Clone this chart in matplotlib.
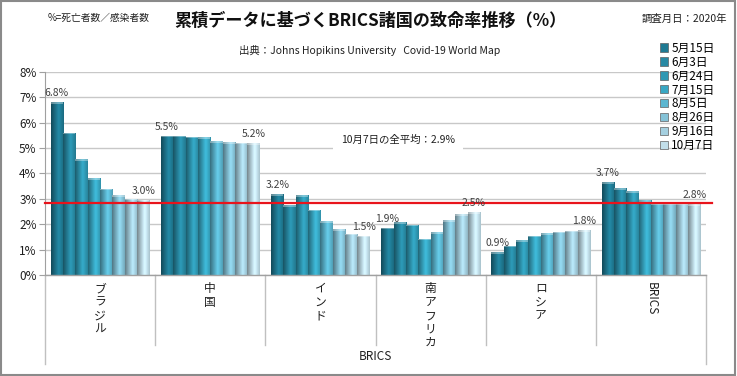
import numpy as np
import matplotlib
matplotlib.use("Agg")
import matplotlib.pyplot as plt
from matplotlib.patches import Patch, Rectangle
from matplotlib.lines import Line2D
import matplotlib.colors as mcolors
import matplotlib.transforms as mtransforms

plt.rcParams['font.family'] = ['Noto Sans CJK JP', 'DejaVu Sans']

# data
countries = ['ブラジル', '中国', 'インド', '南アフリカ', 'ロシア', 'BRICS']
dates = ['5月15日', '6月3日', '6月24日', '7月15日', '8月5日', '8月26日', '9月16日', '10月7日']
rates = {
    'ブラジル': [6.80, 5.60, 4.57, 3.82, 3.40, 3.15, 3.01, 2.96],
    '中国':     [5.48, 5.48, 5.45, 5.43, 5.27, 5.24, 5.22, 5.19],
    'インド':   [3.19, 2.75, 3.15, 2.58, 2.11, 1.80, 1.62, 1.54],
    '南アフリカ': [1.86, 2.08, 1.99, 1.42, 1.69, 2.15, 2.40, 2.48],
    'ロシア':   [0.90, 1.16, 1.38, 1.54, 1.65, 1.70, 1.74, 1.76],
    'BRICS':    [3.66, 3.41, 3.30, 2.94, 2.82, 2.81, 2.80, 2.79],
}
average = 2.85
avg_text = '10月7日の全平均：2.9%'
colors = ['#1f7a93', '#2889a3', '#2f98b3', '#38a7c3', '#5bb6d0', '#85c3d8', '#a5d0e0', '#c2dfea']

fig = plt.figure(figsize=(7.37, 3.76), dpi=100)
ax = fig.add_axes([0.061, 0.2686, 0.897, 0.54])

n = len(dates)
width = 0.112
x = np.arange(len(countries))
shade = np.concatenate([np.linspace(0.62, 1.12, 12), np.linspace(1.12, 0.88, 8)])

for i, d in enumerate(dates):
    vals = [rates[c][i] for c in countries]
    pos = x - width * (n - 1) / 2 + i * width
    bars = ax.bar(pos, vals, width, color=colors[i], label=d, zorder=2, linewidth=0)
    base = np.array(mcolors.to_rgb(colors[i]))
    img = np.clip(base[None, None, :] * shade[None, :, None], 0, 1)
    for b in bars:
        x0, w, h = b.get_x(), b.get_width(), b.get_height()
        im = ax.imshow(img, extent=(x0, x0 + w, 0, h), aspect='auto', zorder=3,
                       interpolation='bilinear')
        im.set_clip_path(b)
        ax.add_patch(Rectangle((x0, h - 0.06), w, 0.06, color='white', alpha=0.35,
                               zorder=4, linewidth=0))

# value labels on first and last bar of each group
for j, c in enumerate(countries):
    for i in (0, n - 1):
        xp = x[j] - width * (n - 1) / 2 + i * width
        ax.annotate(f'{rates[c][i]:.1f}%', (xp, rates[c][i]), xytext=(0, 3),
                    textcoords='offset points', ha='center', va='bottom',
                    fontsize=7.5, color='#404040', zorder=6)

ax.set_xlim(-0.5, len(countries) - 0.5)
ax.set_ylim(0, 8)
ax.set_yticks(np.arange(0, 9, 1))
ax.set_yticklabels([f'{v}%' for v in range(9)], fontsize=8.5, color='#202020')
ax.set_xticks([])
ax.grid(axis='y', color='#c8c8c8', linewidth=1, zorder=0)
ax.set_axisbelow(True)
for s in ['top', 'right', 'bottom']:
    ax.spines[s].set_visible(False)
ax.spines['left'].set_color('#a0a0a0')
ax.tick_params(axis='y', length=4, color='#a0a0a0', pad=2)

# average line
ax.plot([-0.5, len(countries) - 0.45], [average, average], color='#e8141c',
        linewidth=1.6, zorder=5, clip_on=False)
ax.text(0.534, 0.665, avg_text, transform=ax.transAxes, ha='center', va='center',
        fontsize=7.5, color='#202020', zorder=6,
        bbox=dict(facecolor='white', edgecolor='none', pad=6))

# category axis
trans = mtransforms.blended_transform_factory(ax.transData, ax.transAxes)
ax.plot([-0.5, len(countries) - 0.5], [0, 0], transform=trans, color='#a0a0a0',
        linewidth=1, clip_on=False, zorder=5)
for k in range(len(countries) + 1):
    bottom = -0.44 if k in (0, len(countries)) else -0.345
    ax.add_line(Line2D([k - 0.5, k - 0.5], [0, bottom], transform=trans,
                       color='#c0c0c0', linewidth=1, clip_on=False))
for j, c in enumerate(countries):
    if c == 'BRICS':
        ax.text(x[j], -0.035, c, transform=trans, rotation=-90, ha='center', va='top',
                fontsize=8.5, color='#202020')
    else:
        ax.text(x[j], -0.035, '\n'.join(c), transform=trans, ha='center', va='top',
                fontsize=8.5, color='#202020', linespacing=1.05)
ax.text(2.5, -0.40, 'BRICS', transform=trans, ha='center', va='center',
        fontsize=8.5, color='#202020')

# titles and notes
fig.text(0.502, 0.945, '累積データに基づくBRICS諸国の致命率推移（%）', ha='center',
         va='center', fontsize=12.3, fontweight='bold', color='#101010')
fig.text(0.065, 0.953, '%=死亡者数／感染者数', ha='left', va='center', fontsize=7,
         color='#202020')
fig.text(0.986, 0.950, '調査月日：2020年', ha='right', va='center', fontsize=7.5,
         color='#202020')
fig.text(0.502, 0.865, '出典：Johns Hopikins University   Covid-19 World Map',
         ha='center', va='center', fontsize=7.5, color='#202020')

handles = [Patch(facecolor=colors[i], edgecolor='#606060', linewidth=0.5) for i in range(n)]
fig.legend(handles, dates, loc='upper left', bbox_to_anchor=(0.887, 0.905),
           frameon=False, fontsize=8.5, handlelength=0.7, handleheight=0.7,
           handletextpad=0.3, labelspacing=0.08, borderpad=0)

fig.add_artist(Rectangle((0.002, 0.003), 0.995, 0.994, transform=fig.transFigure,
                         fill=False, edgecolor='#8a8a8a', linewidth=1.5))

fig.savefig('out.png', dpi=100)
